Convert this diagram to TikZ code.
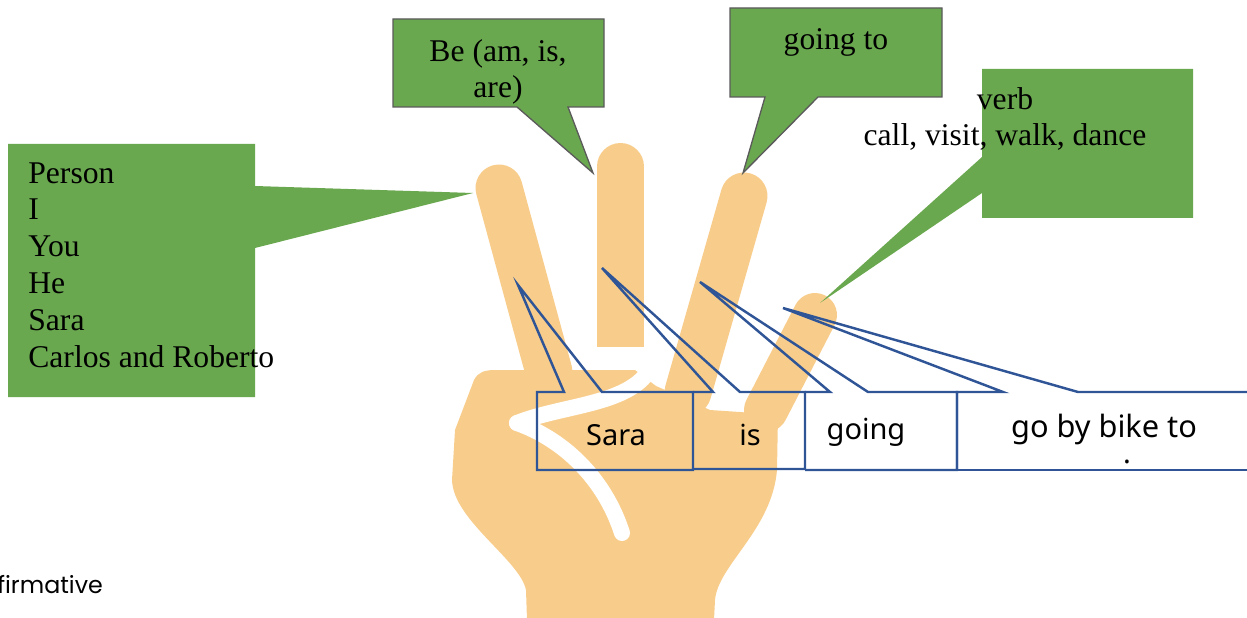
\documentclass[tikz,border=0pt]{standalone}
\usepackage{fontspec}
\setmainfont{Liberation Serif}
\newfontfamily\uisans{Noto Sans}
\newfontfamily\gothic{Poppins}
\definecolor{skin}{HTML}{F8CD8C}
\definecolor{leaf}{HTML}{6AA84F}
\definecolor{edge}{HTML}{5A5A5A}
\definecolor{ink}{HTML}{2F5597}

\begin{document}
\begin{tikzpicture}[x=0.02cm,y=-0.02cm,
  finger/.style={skin,line width=0.94cm,line cap=round},
  crease/.style={white,line width=0.32cm,line cap=round},
  bubble/.style={fill=leaf},
  bubbleline/.style={fill=leaf,draw=edge,line width=0.75pt,line join=miter},
  wordbox/.style={draw=ink,line width=1.4pt,line join=miter},
  serif/.style={font=\fontsize{18}{20.5}\selectfont,inner sep=0pt},
  word/.style={font=\uisans\fontsize{16.5}{20}\selectfont,inner sep=0pt,anchor=base}]
\useasboundingbox (0,0) rectangle (1247,618);
\clip (0,0) rectangle (1247,618);

% fingertips the bubbles point at
\coordinate (tipIndex) at (473,193);
\coordinate (tipMiddle) at (593,173);
\coordinate (tipRing) at (743,173);
\coordinate (tipPinky) at (820,303);

% hand: fingers, palm, then the white thumb creases
\draw[finger] (499,188) -- (549,372);
\draw[finger] (620.5,166.5) -- (620.5,300);
\fill[skin] (597,250) rectangle (644,347);
\draw[finger] (744,196) -- (688,392);
\draw[finger,line width=0.88cm] (815,315) -- (766,410);
\fill[skin] (495,370) -- (635,370) -- (656,386) -- (710,410) -- (740,412) -- (778,415)
  -- (777,470) .. controls (772,530) and (718,565) .. (715,600) -- (714,620) -- (527,620)
  -- (526,590) .. controls (520,560) and (453,520) .. (452,480) -- (455,430) -- (474,380)
  .. controls (478,372) and (485,370) .. (495,370) -- cycle;
\draw[crease] (517,423) .. controls (560,406) and (620,405) .. (645,376);
\draw[crease] (517,423) .. controls (565,440) and (605,480) .. (622,533);

% green bubbles
\fill[bubble] (8,144) -- (255,144) -- (255,186) -- (tipIndex) -- (255,248) -- (255,397) -- (8,397) -- cycle;
\draw[bubbleline] (393,19) -- (604,19) -- (604,107) -- (568,107) -- (tipMiddle) -- (517,107) -- (393,107) -- cycle;
\draw[bubbleline] (730,8) -- (942,8) -- (942,97) -- (818,97) -- (tipRing) -- (765,97) -- (730,97) -- cycle;
\fill[bubble] (982,69) -- (1193,69) -- (1193,218) -- (982,218) -- (982,193) -- (tipPinky) -- (982,157) -- cycle;

\node[serif,anchor=north west,align=left,font=\fontsize{18}{21}\selectfont] (person) at (28,162)
 {Person\\ I\\ You\\ He\\ Sara\\ Carlos and Roberto};
\node[serif,anchor=north,align=center] (be) at (498,39) {Be (am, is,\\ are)};
\node[serif,anchor=base] (goingto) at (836,50) {going to};
\node[serif,anchor=north,align=center] (verb) at (1005,87) {verb\\ call, visit, walk, dance};

% blue sentence boxes
\coordinate (ptSara) at (518,285);
\coordinate (ptIs) at (602,268);
\coordinate (ptGoing) at (700,282);
\coordinate (ptBike) at (783,308);
\draw[wordbox] (537,392) -- (564,392) -- (ptSara) -- (602,392) -- (693,392) -- (693,470) -- (537,470) -- cycle;
\draw[wordbox] (693,392) -- (713,392) -- (ptIs) -- (740,392) -- (805,392) -- (805,469) -- (693,469);
\draw[wordbox] (805,392) -- (830,392) -- (ptGoing) -- (868,392) -- (957,392) -- (957,470) -- (805,470);
\draw[wordbox] (957,470) -- (957,392) -- (1003,392) -- (ptBike) -- (1078,392) -- (1260,392);
\draw[wordbox] (957,470) -- (1260,470);

\node[word] (sara) at (616,445) {Sara};
\node[word] (is) at (750,445) {is};
\node[word] (going) at (866,439) {going};
\node[word,font=\uisans\fontsize{17.5}{20}\selectfont] (bike) at (1104,437) {go by bike to};
\node[word] (dot) at (1127,463) {.};

\node[font=\gothic\fontsize{13.5}{14}\selectfont,anchor=base west,inner sep=0pt] (mode) at (-3,593) {firmative};
\end{tikzpicture}
\end{document}
